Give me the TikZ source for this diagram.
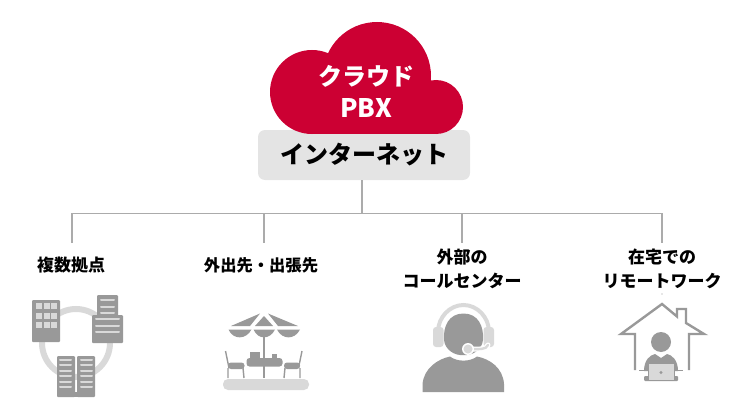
\documentclass[tikz,border=0pt]{standalone}
\usepackage{fontspec}
\setmainfont{Noto Sans CJK JP}
\usetikzlibrary{arrows.meta,calc,positioning}
\definecolor{cloudred}{HTML}{CC0033}
\definecolor{netgray}{HTML}{E4E4E4}
\definecolor{linegray}{HTML}{ABABAB}
\definecolor{icondark}{HTML}{999999}
\definecolor{iconlight}{HTML}{D9D9D9}
\tikzset{
  sitelabel/.style={align=center,font=\fontsize{17}{24}\selectfont\bfseries,text=black,inner sep=0pt},
  branch/.style={draw=linegray,line width=1.8pt},
  dark/.style={fill=icondark,draw=none},
  light/.style={fill=iconlight,draw=none},
  stripe/.style={draw=iconlight,line width=2pt,line cap=round},
  darkline/.style={draw=icondark,line width=2pt}
}
\begin{document}
\begin{tikzpicture}[x=1pt,y=-1pt,>=Stealth]
\useasboundingbox (0,0) rectangle (750,420);
\node[fill=netgray,rounded corners=7pt,minimum width=212pt,minimum height=50pt,inner sep=0pt,font=\fontsize{24}{28}\selectfont\bfseries] (net) at (364,155) {インターネット};
\fill[cloudred] (312,92) circle (42);
\fill[cloudred] (377,76) circle (54);
\fill[cloudred] (436,107) circle (27);
\fill[cloudred] (312,100) rectangle (436,134);
\node[text=white,align=center,font=\fontsize{24}{32}\selectfont\bfseries,inner sep=0pt] (cloud) at (366,91) {クラウド\\{\fontsize{25.5}{32}\selectfont PBX}};
\coordinate (hub) at (362,213.5);
\coordinate (left) at (72,213.5);
\coordinate (right) at (662,213.5);
\coordinate (dropa) at (72,243);
\coordinate (dropb) at (264,243);
\coordinate (dropc) at (462,243);
\coordinate (dropd) at (662,243);
\draw[branch] (net.south -| hub) -- (hub);
\draw[branch] (dropa) -- (left) -- (right) -- (dropd);
\draw[branch] (dropb |- left) -- (dropb);
\draw[branch] (dropc |- left) -- (dropc);
\node[sitelabel] (sitea) at (71,265) {複数拠点};
\node[sitelabel,font=\fontsize{16.3}{24}\selectfont\bfseries] (siteb) at (261,265) {外出先・出張先};
\node[sitelabel] (sitec) at (462,269) {外部の\\コールセンター};
\node[sitelabel] (sited) at (662,269) {在宅での\\リモートワーク};
% offices
\draw[iconlight,line width=6pt] (76,343) circle (34);
\fill[dark,rounded corners=1pt] (32,300) rectangle (60,342);
\foreach \x in {36,43.5,51} \foreach \y in {303,312.5,322} \fill[light] (\x,\y) rectangle ++(6,6);
\fill[dark,rounded corners=1pt] (97,295) rectangle (118,316);
\fill[dark,rounded corners=1pt] (92,315) rectangle (123,343);
\foreach \y in {300,306.5,313} \draw[stripe] (101,\y) -- (114,\y);
\foreach \y in {319,325.5,332} \draw[stripe] (96,\y) -- (119,\y);
\fill[dark,rounded corners=1pt] (57,356) rectangle (75,397);
\fill[dark,rounded corners=1pt] (77,356) rectangle (95,397);
\fill[dark] (74,392) rectangle (78,397);
\foreach \y in {360,365.4,370.7,376,381.7,387} {
  \draw[stripe] (60,\y) -- (71,\y);
  \draw[stripe] (81,\y) -- (92,\y);
}
% terrace
\fill[light,rounded corners=5pt] (223,379) rectangle (309,390);
\fill[dark] (231,326) -- (260,313.5) -- (250,326) -- cycle;
\fill[dark] (264,316) -- (255,326) -- (273,326) -- cycle;
\fill[dark] (268,313.5) -- (298,326) -- (278,326) -- cycle;
\fill[dark] (228.5,329.5) .. controls (233,340) and (246,340) .. (251.5,329.5) -- cycle;
\fill[dark] (253.5,329.5) .. controls (258,340) and (270,340) .. (275,329.5) -- cycle;
\fill[dark] (277,329.5) .. controls (282,340) and (295,340) .. (300,329.5) -- cycle;
\draw[darkline] (264,332) -- (264,378);
\fill[dark,rounded corners=3pt] (246.5,358) rectangle (282.5,366.5);
\fill[dark] (250,352) rectangle (259.5,358);
\fill[dark] (271.5,353.5) rectangle (276.5,358);
\draw[darkline,line width=1.4pt] (225.5,351) -- (229,368) (228,368) -- (228,378) (243,368) -- (244,378);
\draw[darkline,line width=1.4pt] (302,351) -- (298.5,368) (300,368) -- (300,378) (285,368) -- (284,378);
\fill[dark,rounded corners=3pt] (228,362.5) rectangle (244.5,369);
\fill[dark,rounded corners=3pt] (284,362.5) rectangle (300,369);
% call center
\fill[dark] (422.5,392) -- (422.5,384) .. controls (424,368) and (438,359) .. (450,356.5) .. controls (457,362) and (470,362) .. (477,356.5) .. controls (490,359) and (503,368) .. (504,384) -- (504,392) -- cycle;
\fill[dark] (463.5,313.5) .. controls (478,313.5) and (484,326) .. (483,340) .. controls (482,350) and (472,356) .. (463.5,355) .. controls (455,356) and (445,350) .. (444,340) .. controls (443,326) and (449,313.5) .. (463.5,313.5) -- cycle;
\draw[iconlight,line width=4pt] (438,332) .. controls (438,317) and (450,305) .. (463.5,305) .. controls (477,305) and (489,317) .. (489,332);
\fill[light,rounded corners=3pt] (433,327) rectangle (443.5,347);
\fill[light,rounded corners=3pt] (483.5,327) rectangle (494,347);
\draw[white,line width=5pt,line cap=round] (488,345) .. controls (486,350) and (480,349) .. (468,349);
\draw[iconlight,line width=2.4pt,line cap=round] (488,345) .. controls (486,350) and (480,349) .. (468,349);
\fill[white] (468,349) circle (6);
\fill[light] (468,349) circle (4.5);
% home office
\draw[darkline,line width=2.4pt] (635,370) -- (635,334) -- (621,334) -- (662,304) -- (677,316.5) -- (677,309) -- (686,309) -- (686,323) -- (704,334) -- (689,334) -- (689,370);
\fill[icondark] (662,294) circle (0.6);
\fill[dark] (661,342) circle (10);
\fill[dark] (644,371) .. controls (644,360) and (650,355) .. (655,354) -- (661,358) -- (667,354) .. controls (672,355) and (678,360) .. (678,371) -- cycle;
\draw[darkline,line width=1.6pt] (639,370.5) -- (683,370.5);
\fill[dark,rounded corners=1pt] (644,376) rectangle (678,381);
\fill[iconlight,draw=icondark,line width=1pt] (648,363.5) rectangle (674,380);
\fill[dark] (661,372.5) circle (1.7);
\end{tikzpicture}
\end{document}
